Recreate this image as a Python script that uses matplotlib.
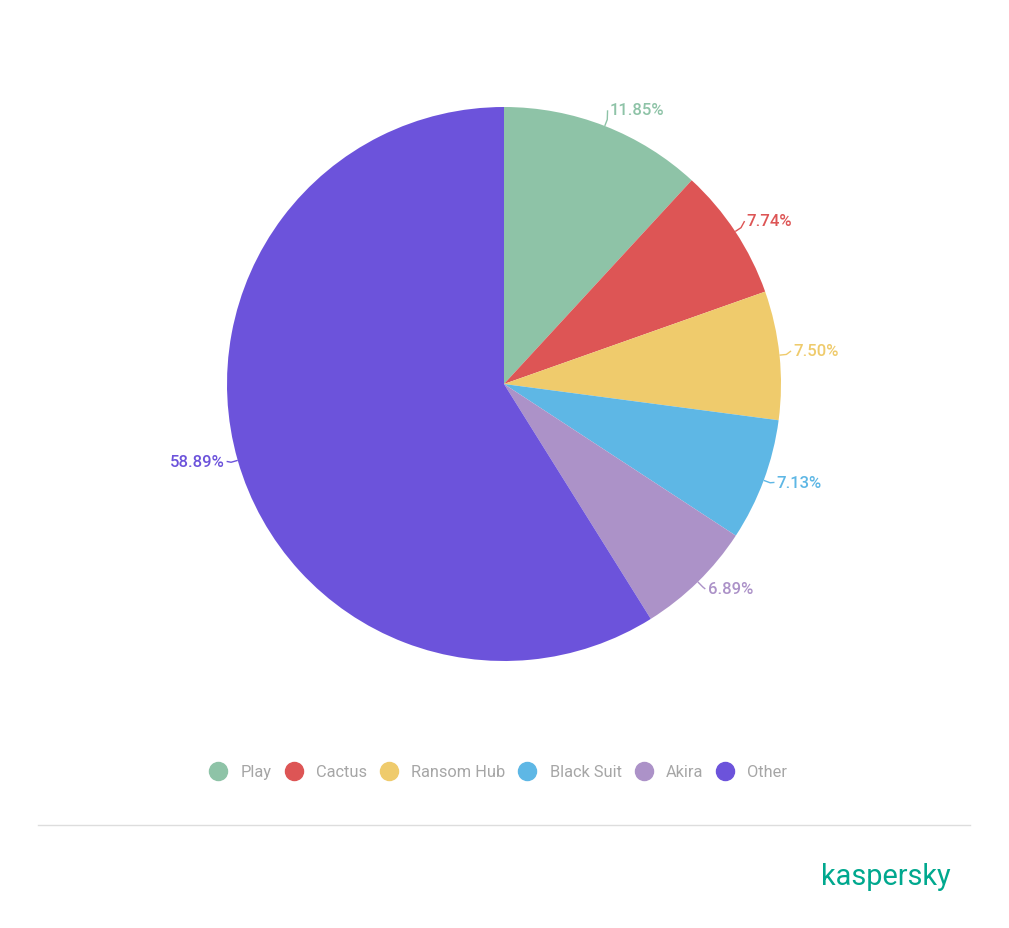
import numpy as np
import matplotlib
matplotlib.use("Agg")
import matplotlib.pyplot as plt
from matplotlib.lines import Line2D

plt.rcParams['font.family'] = ['Roboto', 'DejaVu Sans']

categories = ["Play", "Cactus", "Ransom Hub", "Black Suit", "Akira", "Other"]
values = [11.85, 7.74, 7.50, 7.13, 6.89, 58.89]
labels = ["11.85%", "7.74%", "7.50%", "7.13%", "6.89%", "58.89%"]
colors = ["#8EC3A7", "#DD5555", "#EFCB6C", "#5EB7E5", "#AC92C8", "#6C53DB"]

W, H = 1009, 929
fig = plt.figure(figsize=(W / 100, H / 100), dpi=100)
fig.patch.set_facecolor("white")

cx, cy, R = 504, 385, 277
k = 1.35
half = R * k
ax = fig.add_axes([(cx - half) / W, 1 - (cy + half) / H, 2 * half / W, 2 * half / H])

wedges, _ = ax.pie(values, colors=colors, startangle=90, counterclock=False,
                   radius=1.0, center=(0, 0), frame=True,
                   wedgeprops=dict(linewidth=0))
ax.set_xlim(-k, k)
ax.set_ylim(-k, k)
ax.set_aspect("equal")
ax.axis("off")

for w, lab, col in zip(wedges, labels, colors):
    ang = np.deg2rad((w.theta1 + w.theta2) / 2)
    x0, y0 = np.cos(ang), np.sin(ang)
    side = 1 if x0 >= 0 else -1
    xt, yt = 1.05 * x0, 1.05 * y0
    xm, ym = 1.025 * x0, 1.025 * y0
    ax.plot([x0, xm, xt - side * 0.008], [y0, ym, yt + 0.01], color=col, lw=1.0,
            solid_capstyle="butt")
    ax.text(xt, yt - 0.005, lab, color=col, fontsize=12, fontweight="medium",
            ha="left" if side > 0 else "right", va="baseline")

handles = [Line2D([0], [0], marker="o", linestyle="none", markersize=13,
                  markerfacecolor=c, markeredgecolor=c) for c in colors]
leg = fig.legend(handles, categories, loc="center", ncol=6,
                 bbox_to_anchor=(498 / W, 1 - 773 / H), frameon=False,
                 prop={"size": 11.8}, handletextpad=0.75, columnspacing=0.75,
                 handlelength=1.2)
for t in leg.get_texts():
    t.set_color("#A6A6A6")

fig.add_artist(Line2D([38 / W, 970 / W], [1 - 826 / H, 1 - 826 / H],
                      color="#DDDDDD", lw=1.0))
fig.text(951 / W, 1 - 877 / H, "kaspersky", color="#00A88E", fontsize=20.8,
         ha="right", va="center")

fig.savefig("out.png", dpi=100, facecolor="white")
